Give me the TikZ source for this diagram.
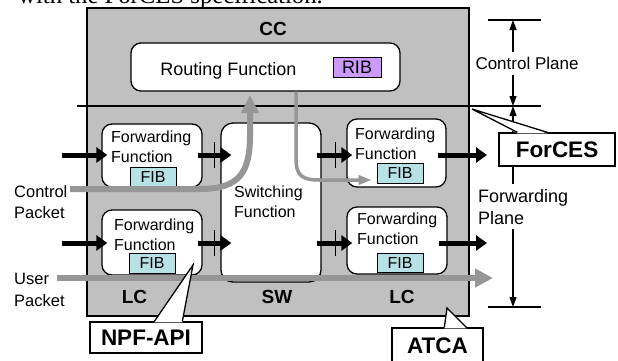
\documentclass[tikz,border=0pt]{standalone}
\usepackage{fontspec}
\setmainfont{Liberation Sans}
\newfontfamily\paperserif{Liberation Serif}
\usetikzlibrary{arrows.meta,calc}

\begin{document}
\begin{tikzpicture}[x=1pt,y=-1pt]
    % -----------------------------
    % Parameters (tweak as needed)
    % -----------------------------
    \def\lw{1.3pt}          % outline width of the boxes
    \def\rowA{155}          % y of the upper packet row
    \def\rowB{243}          % y of the lower packet row
    \def\sepY{106}          % border between control and forwarding plane
    \def\dimX{513}          % x of the plane dimension line

    % Colours
    \definecolor{chassisgray}{RGB}{192,192,192}
    \definecolor{flowgray}{RGB}{150,150,150}
    \definecolor{fibcyan}{RGB}{182,226,230}
    \definecolor{ribviolet}{RGB}{204,153,255}

    % Fonts -- sizes in pt, 1pt = 1px of the page
    \newcommand{\ffFont}{\fontsize{16pt}{19.5pt}\selectfont}
    \newcommand{\sideFont}{\fontsize{17pt}{21pt}\selectfont}
    \newcommand{\tagFont}{\bfseries\fontsize{19pt}{19pt}\selectfont}
    \newcommand{\calloutFont}{\bfseries\fontsize{22.5pt}{22.5pt}\selectfont}

    % -----------------------------
    % Styles and helpers
    % -----------------------------
    \tikzset{
      chassis/.style={draw=black, line width=1.5pt, fill=chassisgray, inner sep=0},
      funcbox/.style={draw=black, line width=\lw, fill=white, rounded corners=10pt, inner sep=0},
      fibbox/.style={draw=black, line width=0.7pt, fill=fibcyan, minimum width=46pt, minimum height=20pt, inner sep=0, font=\ffFont},
      fftext/.style={align=left, inner sep=0, font=\ffFont, anchor=north west},
      cardtag/.style={inner sep=0, anchor=base, font=\tagFont},
      pkt/.style={line width=5pt, -{Triangle[length=11pt,width=15pt]}},
      backtick/.style={line width=0.6pt},
      graypath/.style={color=flowgray, line width=6pt, -{Triangle[length=18pt,width=17pt]}},
      dimline/.style={line width=1.1pt},
      dimarrow/.style={line width=1.1pt, {Triangle[length=10pt,width=7pt]}-{Triangle[length=10pt,width=7pt]}},
      calloutbox/.style={draw=black, line width=\lw, fill=white, inner sep=0, font=\calloutFont}
    }

    % wedge of a callout: node, left and right foot (from its north west), tip
    \newcommand{\calloutWedge}[4]{%
      \fill[white] ($(#1.north west)+(#2,1)$) -- (#4) -- ($(#1.north west)+(#3,1)$) -- cycle;
      \draw[line width=\lw] ($(#1.north west)+(#2,0)$) -- (#4) -- ($(#1.north west)+(#3,0)$);
    }

    \useasboundingbox (0,0) rectangle (618,360);
    \clip (0,0) rectangle (618,360);

    % line of the paper text, cut by the top of the page
    \node[anchor=base west, inner sep=0, font=\paperserif\fontsize{24.7pt}{28pt}\selectfont] (paper) at (18,3) {with the ForCES specification.};

    % -----------------------------
    % Chassis, control card and line cards
    % -----------------------------
    \node[chassis, minimum width=382pt, minimum height=308pt] (atcaBox) at (278,162) {};
    \node[funcbox, minimum width=269pt, minimum height=48pt] (rout) at (265.5,67) {};
    \node[fibbox, fill=ribviolet, font=\fontsize{18pt}{18pt}\selectfont, minimum width=48pt] (rib) at (357,67) {RIB};
    \node[cardtag, font=\fontsize{18pt}{18pt}\selectfont] (routTxt) at (228.5,75) {Routing Function};
    \node[cardtag] (ccTxt) at (273,35) {CC};

    \node[funcbox, minimum width=100pt, minimum height=63pt] (ffA) at (152,155.5) {};
    \node[funcbox, minimum width=100pt, minimum height=65pt] (ffB) at (152,242.5) {};
    \node[funcbox, minimum width=100pt, minimum height=159pt, rounded corners=12pt] (sw) at (271,202.5) {};
    \node[funcbox, minimum width=99pt, minimum height=68pt] (ffC) at (396.5,153) {};
    \node[funcbox, minimum width=100pt, minimum height=67pt] (ffD) at (397,240.5) {};

    \node[fibbox, minimum height=19pt] (fibA) at (153,177) {FIB};
    \node[fibbox] (fibB) at (152,263) {FIB};
    \node[fibbox] (fibC) at (400,173) {FIB};
    \node[fibbox, minimum height=19pt] (fibD) at (400,262.5) {FIB};

    \node[fftext] (ffAtxt) at (111,131) {Forwarding\\Function};
    \node[fftext] (ffBtxt) at (114,219) {Forwarding\\Function};
    \node[fftext] (ffCtxt) at (355,128) {Forwarding\\Function};
    \node[fftext] (ffDtxt) at (357,213) {Forwarding\\Function};
    \node[fftext] (swTxt)  at (234,186) {Switching\\Function};

    \node[cardtag] (lcLeft)  at (134.5,303) {LC};
    \node[cardtag] (swTag)   at (277,303)   {SW};
    \node[cardtag] (lcRight) at (402,303)   {LC};

    % border of the two planes
    \draw[dimline] (77,\sepY) -- (541,\sepY);

    % -----------------------------
    % Packet path through the cards
    % -----------------------------
    \coordinate (inA)  at (62,\rowA);
    \coordinate (inB)  at (62,\rowB);
    \coordinate (outA) at (487,\rowA);
    \coordinate (outB) at (487,\rowB);

    \draw[pkt] (inA) -- ($(ffA.west |- inA)+(6,0)$);
    \draw[pkt] ($(ffA.east |- inA)+(-5,0)$) -- ($(sw.west |- inA)+(11,0)$);
    \draw[pkt] ($(sw.east |- inA)+(-5,0)$) -- ($(ffC.west |- inA)+(6,0)$);
    \draw[pkt] ($(ffC.east |- inA)+(-9,0)$) -- (outA);

    \draw[pkt] (inB) -- ($(ffB.west |- inB)+(6,0)$);
    \draw[pkt] ($(ffB.east |- inB)+(-5,0)$) -- ($(sw.west |- inB)+(11,0)$);
    \draw[pkt] ($(sw.east |- inB)+(-5,0)$) -- ($(ffD.west |- inB)+(6,0)$);
    \draw[pkt] ($(ffD.east |- inB)+(-9,0)$) -- (outB);

    % backplane marks
    \foreach \ty in {\rowA,\rowB}{
      \draw[backtick] (214,\ty-13) -- (214,\ty+13);
      \draw[backtick] (335,\ty-13) -- (335,\ty+13);
    }

    % -----------------------------
    % Control and user packets (gray)
    % -----------------------------
    \node[fftext, font=\fontsize{16.5pt}{21pt}\selectfont] (ctrlTxt) at (14,185) {Control\\Packet};
    \node[fftext, font=\fontsize{16.5pt}{22pt}\selectfont] (userTxt) at (14,273) {User\\Packet};

    \coordinate (ctrlIn)  at (70,189);
    \coordinate (ribIn)   at (250,95);
    \coordinate (userIn)  at (57,278);
    \coordinate (userOut) at (493,278);

    \draw[graypath] (ctrlIn) -- (200,189) .. controls (240,189) and (250,172) .. (250,135) -- (ribIn);
    \draw[graypath, line width=3.5pt, -{Triangle[length=13pt,width=9pt]}]
      ($(rout.south)+(30.5,0)$) -- (296,158) .. controls (296,176) and (302,180) .. (320,180) -- ($(fibC.west)+(-5,7)$);
    \draw[graypath, -{Triangle[length=18pt,width=18pt]}] (userIn) -- (userOut);

    % -----------------------------
    % Control / forwarding plane dimension
    % -----------------------------
    \coordinate (planeTop) at (\dimX,20);
    \coordinate (planeMid) at (\dimX,\sepY);
    \coordinate (planeBot) at (\dimX,307);
    \draw[dimline] (488,20) -- (541,20);
    \draw[dimline] (488,307) -- (541,307);
    \draw[dimarrow] (planeTop) -- (planeMid);
    \draw[dimarrow] (planeMid) -- (planeBot);

    \node[cardtag, font=\sideFont, fill=white, inner ysep=5pt] (cpTxt) at (527,69.5) {Control Plane};
    \node[fftext, font=\fontsize{18pt}{22pt}\selectfont, fill=white, inner xsep=2pt, inner ysep=5pt] (fpTxt) at (476,184) {Forwarding\\Plane};

    % -----------------------------
    % Callouts
    % -----------------------------
    \node[calloutbox, minimum width=116pt, minimum height=33pt] (forces) at (557,149.5) {ForCES};
    \node[calloutbox, minimum width=112pt, minimum height=31pt] (npf) at (146,337.5) {NPF-API};
    \node[calloutbox, minimum width=91pt, minimum height=35pt] (atca) at (437.5,345.5) {ATCA};

    \coordinate (forcesTip) at (472,109);
    \coordinate (npfTip)    at (193,265);
    \coordinate (atcaTip)   at (447,308);

    \calloutWedge{forces}{19}{49}{forcesTip}
    \calloutWedge{npf}{65}{93}{npfTip}
    \calloutWedge{atca}{53}{75}{atcaTip}

\end{tikzpicture}
\end{document}
